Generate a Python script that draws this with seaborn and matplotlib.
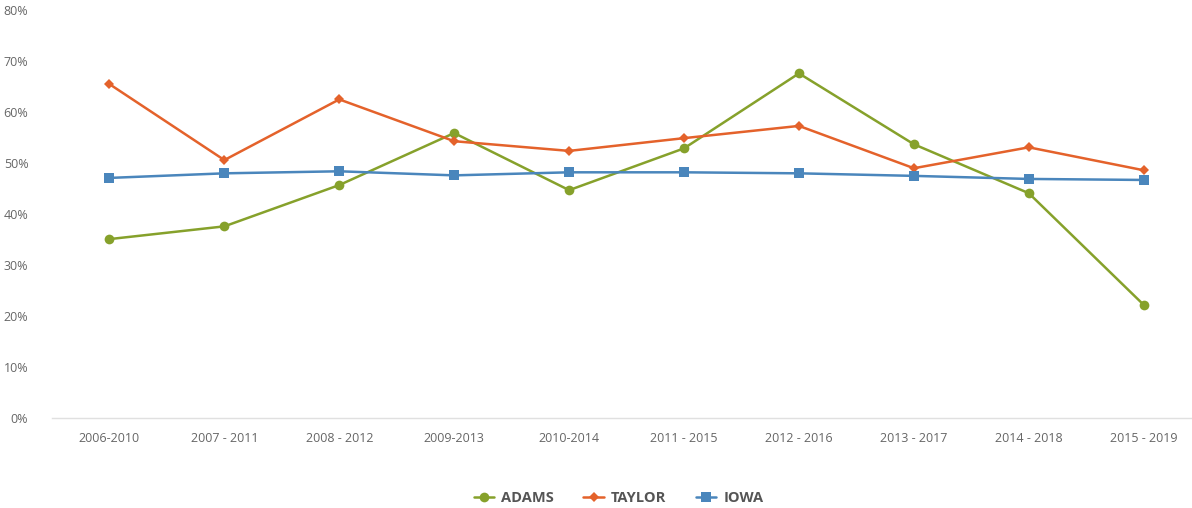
import pandas as pd
import matplotlib.pyplot as plt
import seaborn as sb
from matplotlib.ticker import PercentFormatter

periods = ['2006-2010', '2007 - 2011', '2008 - 2012', '2009-2013', '2010-2014',
           '2011 - 2015', '2012 - 2016', '2013 - 2017', '2014 - 2018', '2015 - 2019']
adams = [35.1, 37.6, 45.7, 55.9, 44.7, 52.9, 67.6, 53.7, 44.1, 22.2]
taylor = [65.5, 50.6, 62.5, 54.3, 52.4, 54.9, 57.3, 49.0, 53.1, 48.6]
iowa = [47.1, 48.0, 48.4, 47.6, 48.2, 48.2, 48.0, 47.5, 46.9, 46.7]

series = ['ADAMS', 'TAYLOR', 'IOWA']
colors = {'ADAMS': '#86a12b', 'TAYLOR': '#e4622b', 'IOWA': '#4a86bc'}
markers = {'ADAMS': 'o', 'TAYLOR': 'D', 'IOWA': 's'}
sizes = {'ADAMS': 7, 'TAYLOR': 5, 'IOWA': 6.5}

df = pd.DataFrame({
    'period': periods * 3,
    'value': adams + taylor + iowa,
    'county': [s for s in series for _ in periods],
})
df['pos'] = df['period'].map({p: i for i, p in enumerate(periods)})

sb.set_style('white')
plt.rcParams['font.family'] = ['Open Sans', 'DejaVu Sans']

fig = plt.figure(figsize=(11.92, 5.08), dpi=100)
ax = fig.add_axes([0.0436, 0.177, 0.9564, 0.803])

for s in series:
    sb.lineplot(data=df[df['county'] == s], x='pos', y='value', ax=ax,
                color=colors[s], marker=markers[s], markersize=sizes[s],
                markeredgewidth=0, linewidth=1.8, label=s)

ax.set_xlim(-0.5, 9.42)
ax.set_ylim(0, 80)
ax.set_yticks(range(0, 81, 10))
ax.yaxis.set_major_formatter(PercentFormatter(decimals=0))
ax.set_xticks(range(len(periods)))
ax.set_xticklabels(periods)
ax.set_xlabel('')
ax.set_ylabel('')
ax.tick_params(axis='both', length=0, labelsize=9, colors='#666666')
ax.tick_params(axis='y', pad=17)
ax.tick_params(axis='x', pad=10)
for side in ['top', 'right', 'left']:
    ax.spines[side].set_visible(False)
ax.spines['bottom'].set_color('#e0e0e0')
ax.spines['bottom'].set_linewidth(1)

leg = ax.legend(loc='center', bbox_to_anchor=(0.497, -0.195), ncol=3,
                frameon=False, handlelength=1.4, columnspacing=2.0, handletextpad=0.5,
                prop={'weight': 'bold', 'size': 10.5})
for t in leg.get_texts():
    t.set_color('#555555')

fig.savefig('out.png', dpi=100)
